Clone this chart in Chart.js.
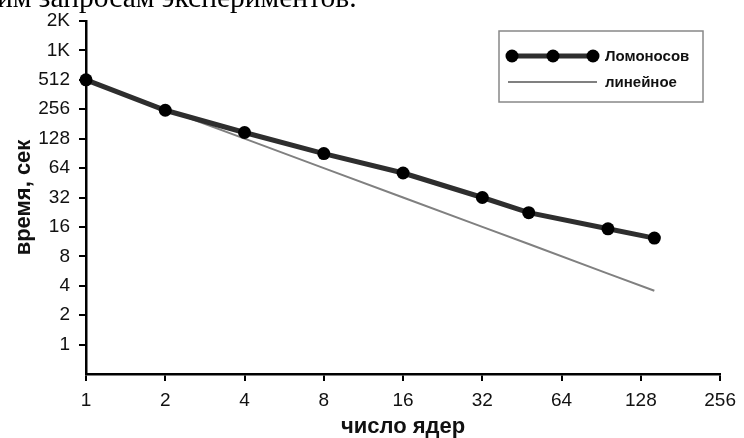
<!DOCTYPE html>
<html>
<head>
<meta charset="utf-8">
<script src="https://cdn.jsdelivr.net/npm/chart.js@4"></script>
<style>
  html, body { margin: 0; padding: 0; background: #fff; overflow: hidden; }
  #wrap { position: relative; width: 744px; height: 438px; overflow: hidden; }
  #chart { position: absolute; left: 0; top: 0; }
  #cut { position: absolute; left: -3px; top: -17px; font: 29.5px "Liberation Serif", serif; line-height: 1; white-space: nowrap; color: #000; }
</style>
</head>
<body>
<div id="wrap">
  <canvas id="chart" width="744" height="438"></canvas>
  <div id="cut">им запросам экспериментов.</div>
</div>
<script>
  // число ядер
  const cores = [1, 2, 4, 8, 16, 32, 48, 96, 144];
  // время, сек
  const lomonosov = [512, 250, 148, 90, 57, 32, 22.4, 15.3, 12.3];
  const linear = [512, 256, 128, 64, 32, 16, 10.7, 5.33, 3.56];

  const xTicks = [1, 2, 4, 8, 16, 32, 64, 128, 256];
  const yTicks = [1, 2, 4, 8, 16, 32, 64, 128, 256, 512, 1024, 2048];

  const toPoints = ys => cores.map((c, i) => ({ x: c, y: ys[i] }));

  // legend in a box, drawn by hand (line + three markers)
  const boxLegend = {
    id: 'boxLegend',
    afterDraw(chart) {
      const ctx = chart.ctx;
      ctx.save();
      ctx.fillStyle = '#fff';
      ctx.fillRect(499, 31, 204, 71);
      ctx.strokeStyle = '#888';
      ctx.lineWidth = 1.5;
      ctx.strokeRect(499, 31, 204, 71);

      const rows = [56, 82];
      chart.data.datasets.forEach((ds, i) => {
        const y = rows[i];
        ctx.strokeStyle = ds.borderColor;
        ctx.lineWidth = ds.borderWidth;
        ctx.beginPath();
        ctx.moveTo(i === 0 ? 512 : 508, y);
        ctx.lineTo(i === 0 ? 593 : 597, y);
        ctx.stroke();
        if (ds.pointRadius > 0) {
          ctx.fillStyle = ds.pointBackgroundColor;
          [512, 553, 593].forEach(px => {
            ctx.beginPath();
            ctx.arc(px, y, ds.pointRadius, 0, Math.PI * 2);
            ctx.fill();
          });
        }
        ctx.fillStyle = '#111';
        ctx.font = 'bold 15px "Liberation Sans", Arial, sans-serif';
        ctx.textBaseline = 'middle';
        ctx.fillText(ds.label, 605, y + 1);
      });
      ctx.restore();
    }
  };

  const tickFont = { family: '"Liberation Sans", Arial, sans-serif', size: 19 };
  const titleFont = { family: '"Liberation Sans", Arial, sans-serif', size: 22, weight: 'bold', lineHeight: 1 };

  new Chart(document.getElementById('chart'), {
    type: 'line',
    data: {
      datasets: [
        {
          label: 'Ломоносов',
          data: toPoints(lomonosov),
          borderColor: '#2e2e2e',
          borderWidth: 5,
          pointRadius: 6.5,
          pointBackgroundColor: '#000',
          pointBorderWidth: 0,
          clip: false,
          order: 0
        },
        {
          label: 'линейное',
          data: toPoints(linear),
          borderColor: '#808080',
          borderWidth: 2,
          pointRadius: 0,
          clip: false,
          order: 1
        }
      ]
    },
    options: {
      responsive: false,
      animation: false,
      devicePixelRatio: 1,
      layout: { padding: { top: 21, right: 18, left: 0, bottom: 0 } },
      plugins: { legend: { display: false }, tooltip: { enabled: false } },
      scales: {
        x: {
          type: 'logarithmic',
          min: 1,
          max: 256,
          afterBuildTicks: s => { s.ticks = xTicks.map(v => ({ value: v })); },
          afterFit: s => { s.height = 64; },
          border: { color: '#000', width: 2.5 },
          grid: { drawOnChartArea: false, drawTicks: true, tickLength: 7, color: '#000', lineWidth: 2 },
          ticks: { color: '#111', font: tickFont, padding: 8, maxRotation: 0, autoSkip: false, callback: v => String(v) },
          title: { display: true, text: 'число ядер', color: '#111', font: titleFont, padding: { top: 0, bottom: 0 } }
        },
        y: {
          type: 'logarithmic',
          min: 0.5,
          max: 2048,
          afterBuildTicks: s => { s.ticks = yTicks.map(v => ({ value: v })); },
          afterFit: s => { s.width = 86; },
          border: { color: '#000', width: 2.5 },
          grid: { drawOnChartArea: false, drawTicks: true, tickLength: 7, color: '#000', lineWidth: 2 },
          ticks: { color: '#111', font: tickFont, padding: 9, autoSkip: false, callback: v => v >= 1024 ? (v / 1024) + 'K' : String(v) },
          title: { display: true, text: 'время, сек', color: '#111', font: titleFont, padding: { top: 13, bottom: 0 } }
        }
      }
    },
    plugins: [boxLegend]
  });
</script>
</body>
</html>
